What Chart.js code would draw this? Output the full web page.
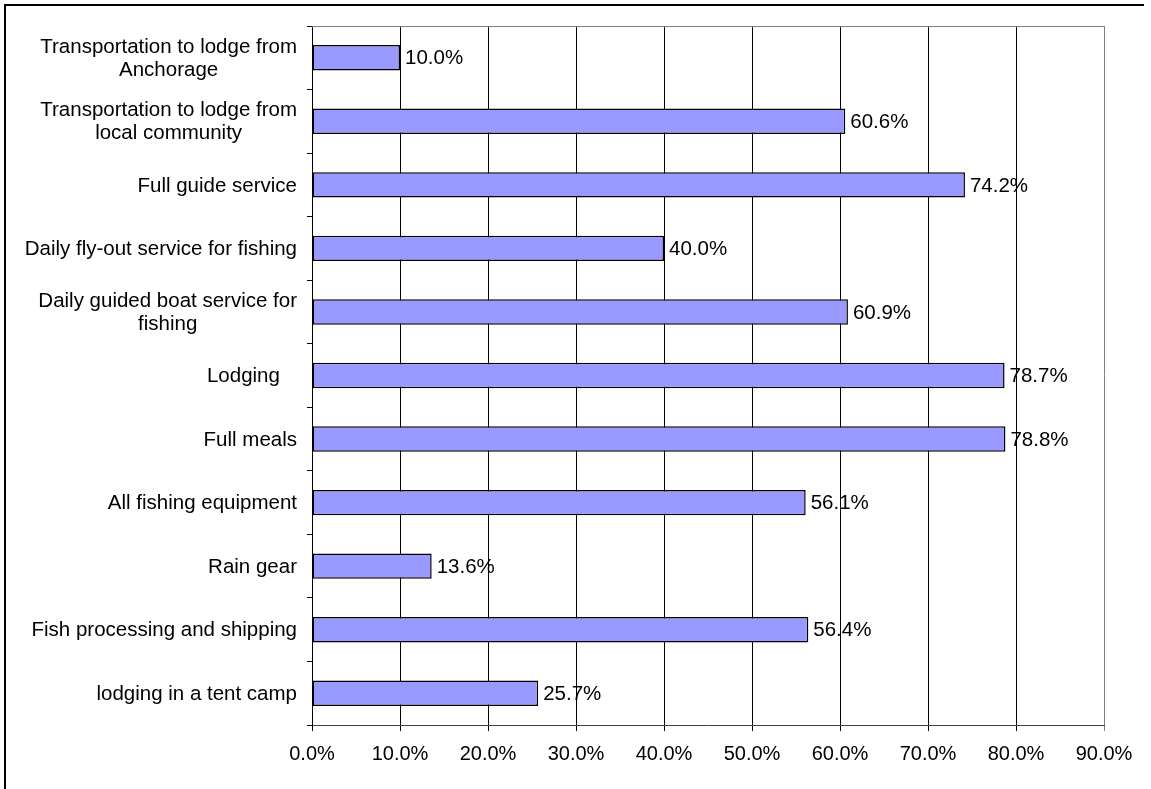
<!DOCTYPE html>
<html>
<head>
<meta charset="utf-8">
<script src="https://cdn.jsdelivr.net/npm/chart.js@4"></script>
<style>
  html, body { margin: 0; padding: 0; background: #fff; overflow: hidden; }
  #wrap { position: absolute; left: 0; top: 0; width: 1151px; height: 789px; }
  #frame { position: absolute; left: 4px; top: 4px; width: 1138px; height: 800px;
           border-top: 2px solid #000; border-left: 2px solid #000; }
</style>
</head>
<body>
<div id="wrap">
  <canvas id="chart" width="1151" height="789"></canvas>
  <div id="frame"></div>
</div>
<script>
// categories, top to bottom
const categories = [
  ['Transportation to lodge from', 'Anchorage'],
  ['Transportation to lodge from', 'local community'],
  'Full guide service',
  'Daily fly-out service for fishing',
  ['Daily guided boat service for', 'fishing'],
  'Lodging   ',
  'Full meals',
  'All fishing equipment',
  'Rain gear',
  'Fish processing and shipping',
  'lodging in a tent camp'
]
const shares = [10.0, 60.6, 74.2, 40.0, 60.9, 78.7, 78.8, 56.1, 13.6, 56.4, 25.7]
const xTicks = [0, 10, 20, 30, 40, 50, 60, 70, 80, 90]

const FAMILY = '"Liberation Sans", Arial, sans-serif'
const FONT = '20.5px ' + FAMILY

// value labels right of each bar
const valueLabels = {
  id: 'valueLabels',
  afterDatasetsDraw(chart) {
    const ctx = chart.ctx
    const meta = chart.getDatasetMeta(0)
    ctx.save()
    ctx.font = FONT
    ctx.fillStyle = '#000'
    ctx.textAlign = 'left'
    ctx.textBaseline = 'middle'
    meta.data.forEach((bar, i) => {
      ctx.fillText(shares[i].toFixed(1) + '%', bar.x + 5, bar.y + 1)
    })
    ctx.restore()
  }
}

// category labels: wrapped ones centred as a block, all blocks right aligned
const catLabels = {
  id: 'catLabels',
  afterDraw(chart) {
    const ctx = chart.ctx
    const y = chart.scales.y
    const right = y.right - 15
    ctx.save()
    ctx.font = FONT
    ctx.fillStyle = '#000'
    ctx.textBaseline = 'middle'
    categories.forEach((lab, i) => {
      const cy = y.getPixelForValue(i) + 1
      if (Array.isArray(lab)) {
        const w = Math.max(...lab.map(s => ctx.measureText(s).width))
        ctx.textAlign = 'center'
        const lh = 23
        lab.forEach((s, k) => {
          ctx.fillText(s, right - w / 2, cy + (k - (lab.length - 1) / 2) * lh)
        })
      } else {
        ctx.textAlign = 'right'
        ctx.fillText(lab, right, cy)
      }
    })
    // gray top border of the plot area
    const a = chart.chartArea
    ctx.strokeStyle = '#808080'
    ctx.lineWidth = 1
    ctx.beginPath()
    ctx.moveTo(a.left, a.top + 0.5)
    ctx.lineTo(a.right, a.top + 0.5)
    ctx.stroke()
    ctx.restore()
  }
}

new Chart(document.getElementById('chart'), {
  type: 'bar',
  data: {
    labels: categories,
    datasets: [{
      data: shares,
      backgroundColor: '#9999FF',
      borderColor: '#000',
      borderWidth: 1.5,
      borderSkipped: false,
      barPercentage: 0.4,
      categoryPercentage: 1
    }]
  },
  options: {
    indexAxis: 'y',
    responsive: false,
    animation: false,
    layout: { padding: { left: 0, top: 26, right: 47, bottom: 0 } },
    plugins: { legend: { display: false }, tooltip: { enabled: false } },
    scales: {
      x: {
        min: 0,
        max: 90,
        afterBuildTicks(scale) { scale.ticks = xTicks.map(v => ({ value: v })) },
        afterFit(scale) { scale.height = 64 },
        ticks: {
          font: { family: FAMILY, size: 20 },
          color: '#000',
          padding: 11,
          callback: v => v.toFixed(1) + '%'
        },
        grid: {
          color: ctx => (ctx.tick && ctx.tick.value === 90) ? '#808080' : '#000',
          lineWidth: 1,
          tickLength: 6
        },
        border: { color: '#404040', width: 1 }
      },
      y: {
        afterFit(scale) { scale.width = 312 },
        ticks: { color: 'rgba(0,0,0,0)', font: { size: 16 } },
        grid: {
          offset: true,
          drawOnChartArea: false,
          color: '#000',
          tickLength: 5
        },
        border: { color: '#000', width: 1 }
      }
    }
  },
  plugins: [valueLabels, catLabels]
})
</script>
</body>
</html>
